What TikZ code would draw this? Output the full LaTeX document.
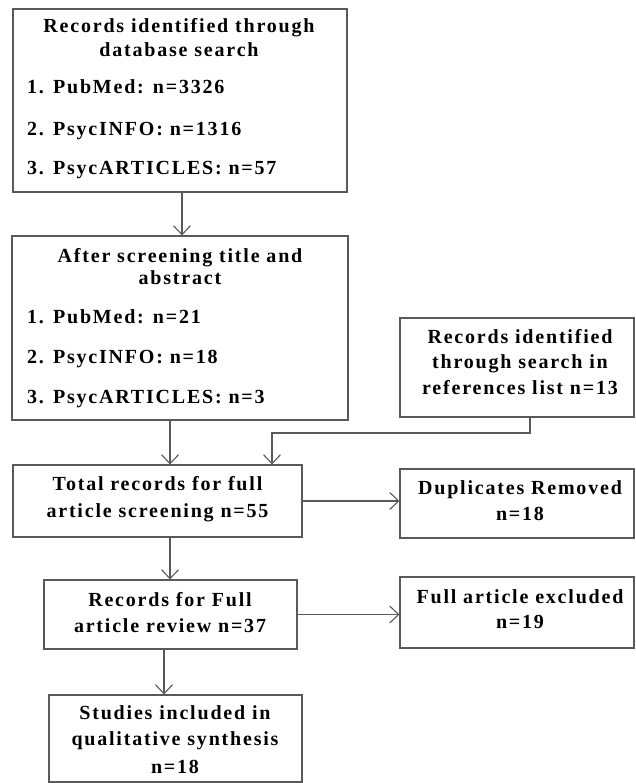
\documentclass[tikz,border=0pt]{standalone}
\usepackage{fontspec}
\setmainfont{Liberation Serif}[LetterSpace=9]
\usetikzlibrary{arrows.meta}
\begin{document}
\begin{tikzpicture}[x=1pt,y=-1pt,
  box/.style={draw=black!65, line width=1.1pt, inner sep=0pt},
  txt/.style={font=\fontsize{20}{24}\selectfont\bfseries, inner sep=0pt, text=black},
  arr/.style={draw=black!65, line width=1.1pt, -{Straight Barb[length=9pt,width=17pt]}}]
\useasboundingbox (0,0) rectangle (636,783);
% boxes
\node[box, minimum width=334pt, minimum height=183pt] (b1) at (180,100.5) {};
\node[box, minimum width=336pt, minimum height=184pt] (b2) at (180,328) {};
\node[box, minimum width=234pt, minimum height=99pt] (r1) at (517,367.5) {};
\node[box, minimum width=289pt, minimum height=72pt] (b3) at (157.5,501) {};
\node[box, minimum width=234pt, minimum height=69pt] (d1) at (517,503.5) {};
\node[box, minimum width=253pt, minimum height=69pt] (b4) at (170.5,614.5) {};
\node[box, minimum width=234pt, minimum height=71pt] (e1) at (517,612.5) {};
\node[box, minimum width=253pt, minimum height=87pt] (b5) at (175.5,738.5) {};
% texts
\node[txt, anchor=base] (t1a) at (179,33) {Records identified through};
\node[txt, anchor=base] (t1b) at (179,57) {database search};
\node[txt, anchor=base west] (t1c) at (27,94) {1. PubMed: n=3326};
\node[txt, anchor=base west] (t1d) at (27,136) {2. PsycINFO: n=1316};
\node[txt, anchor=base west] (t1e) at (27,175) {3. PsycARTICLES: n=57};
\node[txt, anchor=base] (t2a) at (180,262) {After screening title and};
\node[txt, anchor=base] (t2b) at (180,284) {abstract};
\node[txt, anchor=base west] (t2c) at (27,323) {1. PubMed: n=21};
\node[txt, anchor=base west] (t2d) at (27,363) {2. PsycINFO: n=18};
\node[txt, anchor=base west] (t2e) at (27,403) {3. PsycARTICLES: n=3};
\node[txt, anchor=base] (tra) at (520,343) {Records identified};
\node[txt, anchor=base] (trb) at (520,368) {through search in};
\node[txt, anchor=base] (trc) at (520,394) {references list n=13};
\node[txt, anchor=base] (t3a) at (157.5,490) {Total records for full};
\node[txt, anchor=base] (t3b) at (157.5,517) {article screening n=55};
\node[txt, anchor=base] (tda) at (520,494) {Duplicates Removed};
\node[txt, anchor=base] (tdb) at (520,520) {n=18};
\node[txt, anchor=base] (t4a) at (170,606) {Records for Full};
\node[txt, anchor=base] (t4b) at (170,632) {article review n=37};
\node[txt, anchor=base] (tea) at (520,603) {Full article excluded};
\node[txt, anchor=base] (teb) at (520,628) {n=19};
\node[txt, anchor=base] (t5a) at (175,719) {Studies included in};
\node[txt, anchor=base] (t5b) at (175,745) {qualitative synthesis};
\node[txt, anchor=base] (t5c) at (175,773) {n=18};
% connectors
\coordinate (k1) at (530,433);
\coordinate (k2) at (272,433);
\draw[arr] ([xshift=2pt]b1.south) -- ([xshift=2pt]b1.south |- b2.north);
\draw[arr] ([xshift=-10pt]b2.south) -- ([xshift=-10pt]b2.south |- b3.north);
\draw[arr] (r1.south -| k1) -- (k1) -- (k2) -- (k2 |- b3.north);
\draw[arr] (b3.east) -- (b3.east -| d1.west);
\draw[arr] ([xshift=12.5pt]b3.south) -- ([xshift=12.5pt]b3.south |- b4.north);
\draw[arr] (b4.east) -- (b4.east -| e1.west);
\draw[arr] ([xshift=-6.5pt]b4.south) -- ([xshift=-6.5pt]b4.south |- b5.north);
\end{tikzpicture}
\end{document}
